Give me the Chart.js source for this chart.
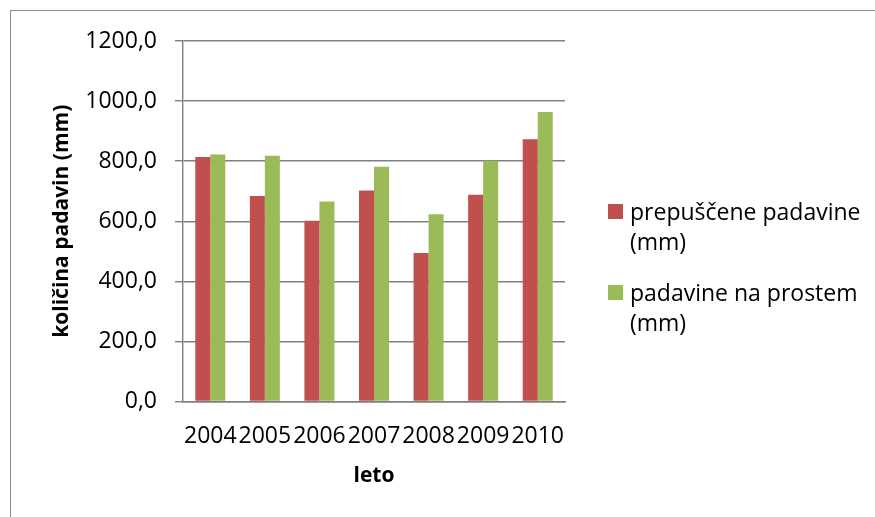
<!DOCTYPE html>
<html>
<head>
<meta charset="utf-8">
<script src="https://cdn.jsdelivr.net/npm/chart.js@4/dist/chart.umd.min.js"></script>
<style>
  html, body { margin: 0; padding: 0; background: #fff; }
  #wrap { width: 875px; height: 517px; position: relative; }
</style>
</head>
<body>
<div id="wrap"><canvas id="c" width="875" height="517"></canvas></div>
<script>
// Yearly precipitation: throughfall vs. open-field rainfall
const years = ['2004', '2005', '2006', '2007', '2008', '2009', '2010'];
const throughfall = [814, 684, 602, 702, 494, 688, 873];
const openField = [822, 818, 666, 781, 623, 801, 964];
const seriesNames = [['prepuščene padavine', '(mm)'], ['padavine na prostem', '(mm)']];
const seriesColors = ['#C0504D', '#9BBB59'];
const yTickValues = [0, 200, 400, 600, 800, 1000, 1200];
const xTitle = 'leto';
const yTitle = 'količina padavin (mm)';

const FONT = "'Open Sans', 'DejaVu Sans', sans-serif";
Chart.defaults.font.family = FONT;
Chart.defaults.color = '#000';

// Light frame around the whole chart
const framePlugin = {
  id: 'frame',
  beforeDraw(chart) {
    const ctx = chart.ctx;
    ctx.save();
    ctx.fillStyle = '#fff';
    ctx.fillRect(0, 0, chart.width, chart.height);
    ctx.strokeStyle = '#8c8c8c';
    ctx.lineWidth = 1;
    ctx.strokeRect(10.5, 10.5, chart.width, chart.height);
    ctx.restore();
  }
};

// Legend on the right with wrapped labels
const sideLegend = {
  id: 'sideLegend',
  afterDraw(chart) {
    const ctx = chart.ctx;
    ctx.save();
    ctx.font = '23px ' + FONT;
    ctx.textBaseline = 'middle';
    ctx.textAlign = 'left';
    chart.data.datasets.forEach((ds, i) => {
      const top = 204 + i * 81;
      ctx.fillStyle = ds.backgroundColor;
      ctx.fillRect(608, top, 15, 15);
      ctx.fillStyle = '#000';
      seriesNames[i].forEach((line, j) => {
        ctx.fillText(line, 630, top + 9 + j * 30);
      });
    });
    ctx.restore();
  }
};

new Chart(document.getElementById('c'), {
  type: 'bar',
  data: {
    labels: years,
    datasets: [
      { label: seriesNames[0].join(' '), data: throughfall, backgroundColor: seriesColors[0] },
      { label: seriesNames[1].join(' '), data: openField, backgroundColor: seriesColors[1] }
    ]
  },
  options: {
    responsive: false,
    animation: false,
    devicePixelRatio: 1,
    layout: { padding: { left: 46, top: 41, right: 310, bottom: 24 } },
    datasets: { bar: { categoryPercentage: 0.55, barPercentage: 1.0 } },
    plugins: {
      legend: { display: false },
      tooltip: { enabled: false }
    },
    scales: {
      x: {
        grid: { display: false, drawTicks: false },
        border: { display: true, color: '#808080', width: 1.4 },
        ticks: { font: { size: 23 }, padding: 21, maxRotation: 0, autoSkip: false, color: '#000' },
        title: { display: true, text: xTitle, font: { size: 21, weight: 'bold' }, padding: 4, color: '#000' },
        afterFit(scale) { scale.height = 91.5; }
      },
      y: {
        min: 0,
        max: 1200,
        afterBuildTicks(scale) { scale.ticks = yTickValues.map(v => ({ value: v })); },
        grid: { color: '#808080', lineWidth: 1.4, drawTicks: true, tickLength: 8 },
        border: { display: true, color: '#808080', width: 1.4 },
        ticks: {
          font: { size: 23 },
          padding: 18,
          color: '#000',
          callback: v => v.toFixed(1).replace('.', ',')
        },
        title: { display: true, text: yTitle, font: { size: 21, weight: 'bold' }, padding: 3, color: '#000' },
        afterFit(scale) { scale.width = 137; }
      }
    }
  },
  plugins: [framePlugin, sideLegend]
});
</script>
</body>
</html>
